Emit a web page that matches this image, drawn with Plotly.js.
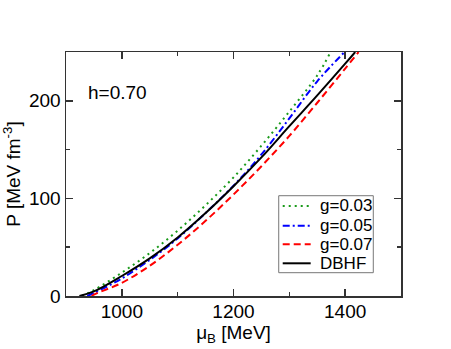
<!DOCTYPE html>
<html>
<head>
<meta charset="utf-8">
<script src="https://cdn.plot.ly/plotly-3.0.1.min.js"></script>
<style>html,body{margin:0;padding:0;background:#fff;}#chart{width:451px;height:349px;}</style>
</head>
<body>
<div id="chart"></div>
<script>
// Estimated values
const muG003 = [928, 950, 1000, 1050, 1100, 1150, 1200, 1250, 1300, 1350, 1373];
const pG003  = [0, 6, 24, 44, 67, 93, 121.5, 154, 189, 226, 249];

const muG005 = [938, 950, 1000, 1050, 1100, 1150, 1200, 1250, 1300, 1350, 1399];
const pG005  = [0, 3, 18, 37, 59, 85, 113, 145, 182, 220, 250];

const muG007 = [946, 950, 1000, 1050, 1100, 1150, 1200, 1250, 1300, 1350, 1400, 1424];
const pG007  = [0, 1.5, 13.5, 31, 52.5, 77, 104, 133, 164, 198, 233, 250];

const muDBHF = [924, 950, 1000, 1050, 1100, 1150, 1200, 1250, 1300, 1350, 1400, 1418];
const pDBHF  = [0, 4.7, 20.5, 38.5, 60, 85, 112.5, 142, 174, 205.5, 238, 250];

const seriesNames = ["g=0.03", "g=0.05", "g=0.07", "DBHF"];
const annotationText = "h=0.70";

const font = "Liberation Sans, Arial, Helvetica, sans-serif";

const styles = [
  {color: "#1a9a1a", width: 2, dash: "2px,4px"},
  {color: "#0000ff", width: 2, dash: "7px,3px,2px,3px"},
  {color: "#ff0000", width: 2, dash: "7px,4px"},
  {color: "#000000", width: 2, dash: "solid"}
];
const xs = [muG003, muG005, muG007, muDBHF];
const ys = [pG003, pG005, pG007, pDBHF];

const traces = xs.map((x, i) => ({
  x: x, y: ys[i], name: seriesNames[i], mode: "lines", showlegend: false,
  line: Object.assign({shape: "spline"}, styles[i])
}));

// Hand-built legend box (paper coordinates) to match the reference's compact rows
const legX0 = 0.635, legX1 = 0.9173, legY0 = 0.0955, legY1 = 0.411;
const rowY = [0.3689, 0.2881, 0.2119, 0.134];
const sampleX0 = 0.6469, sampleX1 = 0.7304, textX = 0.7531;

const shapes = [{
  type: "rect", xref: "paper", yref: "paper", x0: legX0, x1: legX1, y0: legY0, y1: legY1,
  line: {color: "#777", width: 1}, fillcolor: "#fff", layer: "above"
}];
const annotations = [{
  text: annotationText, x: 936, y: 209, xref: "x", yref: "y",
  xanchor: "left", yanchor: "middle", showarrow: false,
  font: {family: font, size: 19, color: "#000"}
}];
seriesNames.forEach((name, i) => {
  shapes.push({
    type: "line", xref: "paper", yref: "paper", x0: sampleX0, x1: sampleX1, y0: rowY[i], y1: rowY[i],
    line: styles[i], layer: "above"
  });
  annotations.push({
    text: name, xref: "paper", yref: "paper", x: textX, y: rowY[i],
    xanchor: "left", yanchor: "middle", showarrow: false,
    font: {family: font, size: 17, color: "#000"}
  });
});

const axisCommon = {
  showline: true, linecolor: "#333", linewidth: 1.5, mirror: "allticks",
  ticks: "inside", ticklen: 7, tickwidth: 1.5, tickcolor: "#333",
  showgrid: false, zeroline: false,
  tickfont: {family: font, size: 19, color: "#000"},
};

const layout = {
  width: 451, height: 349,
  margin: {l: 66, r: 50, t: 52, b: 53},
  paper_bgcolor: "#fff", plot_bgcolor: "#fff",
  font: {family: font, color: "#000"},
  showlegend: false,
  xaxis: Object.assign({}, axisCommon, {
    range: [900, 1500], tick0: 1000, dtick: 200, ticklabelstandoff: -2,
    minor: {ticks: "inside", ticklen: 4, tickwidth: 1.5, tickcolor: "#333", dtick: 100, tick0: 900, showgrid: false},
    title: {text: "μ<sub>B</sub> [MeV]", font: {family: font, size: 19}, standoff: 0}
  }),
  yaxis: Object.assign({}, axisCommon, {
    range: [0, 250], tick0: 0, dtick: 100,
    minor: {ticks: "inside", ticklen: 4, tickwidth: 1.5, tickcolor: "#333", dtick: 50, tick0: 0, showgrid: false},
    title: {text: "P [MeV fm<sup>-3</sup>]", font: {family: font, size: 19}, standoff: 6}
  }),
  shapes: shapes,
  annotations: annotations
};

Plotly.newPlot("chart", traces, layout, {displayModeBar: false, staticPlot: true});
</script>
</body>
</html>
